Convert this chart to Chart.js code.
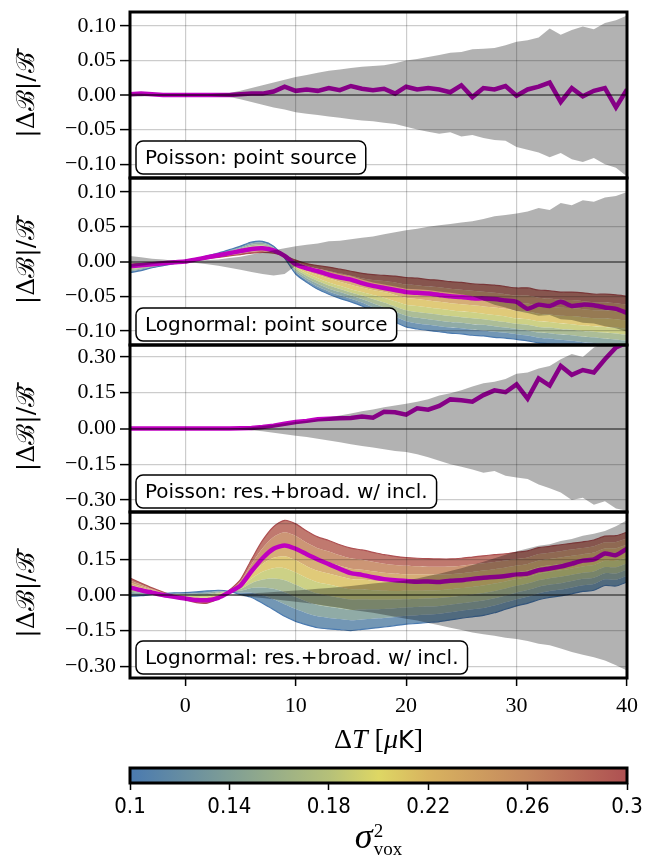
<!DOCTYPE html>
<html>
<head>
<meta charset="utf-8">
<script src="https://cdn.jsdelivr.net/npm/chart.js@4.4.1/dist/chart.umd.min.js"></script>
<style>
  html, body { margin: 0; padding: 0; background: #fff; }
  #page { position: relative; width: 657px; height: 861px; overflow: hidden; }
  canvas { position: absolute; left: 0; }
  .lbl { position: absolute; text-align: center; color: #000; white-space: nowrap; }
  .xt { left: 130px; width: 497px; top: 724px; font: 28px "Liberation Serif", serif; line-height: 30px; }
  .xt .k { font-family: "DejaVu Sans", sans-serif; font-size: 24px; }
  .ct { left: 130px; width: 497px; top: 814px; font: 36px "Liberation Serif", serif; line-height: 44px; }
  .ss { display: inline-flex; flex-direction: column; vertical-align: middle; font-size: 19px; line-height: 18px; text-align: left; font-style: normal; margin-left: 1px; }
</style>
</head>
<body>
<div id="page">
  <canvas id="p1" width="657" height="182" style="top:0px"></canvas>
  <canvas id="p2" width="657" height="175" style="top:174px"></canvas>
  <canvas id="p3" width="657" height="175" style="top:341px"></canvas>
  <canvas id="p4" width="657" height="212" style="top:508px"></canvas>
  <canvas id="cb" width="657" height="64" style="top:760px"></canvas>
  <div class="lbl xt">&Delta;<i>T</i> [<i>&mu;</i><span class="k">K</span>]</div>
  <div class="lbl ct"><i>&sigma;</i><span class="ss"><span>2</span><span>vox</span></span></div>
</div>
<script>
// x grid (ΔT in μK)
const dT = [-5,-4,-3,-2,-1,0,1,2,3,4,5,6,7,8,9,10,11,12,13,14,15,16,17,18,19,20,21,22,23,24,25,26,27,28,29,30,31,32,33,34,35,36,37,38,39,40];
const xTicks = [0, 10, 20, 30, 40];
const yTicksSmall = [-0.1, -0.05, 0, 0.05, 0.1];
const yTicksLarge = [-0.3, -0.15, 0, 0.15, 0.3];
const cbTicks = [0.1, 0.14, 0.18, 0.22, 0.26, 0.3];
const cbTickLabels = ['0.1', '0.14', '0.18', '0.22', '0.26', '0.3'];
const sigmaLevels = [0.1, 0.125, 0.15, 0.175, 0.2, 0.225, 0.25, 0.275, 0.3];
const panelLabels = ['Poisson: point source', 'Lognormal: point source', 'Poisson: res.+broad. w/ incl.', 'Lognormal: res.+broad. w/ incl.'];

// panel 1: Poisson, point source
const p1Hi = [0.002,0.002,0.001,0.001,0.001,0.001,0.001,0.001,0.002,0.003,0.006,0.010,0.014,0.018,0.022,0.026,0.029,0.032,0.035,0.037,0.039,0.041,0.042,0.043,0.046,0.050,0.052,0.055,0.058,0.061,0.062,0.066,0.067,0.068,0.072,0.077,0.079,0.083,0.096,0.087,0.094,0.099,0.095,0.104,0.108,0.115];
const p1Lo = [-0.002,-0.002,-0.001,-0.001,-0.001,-0.001,-0.001,-0.001,-0.002,-0.003,-0.006,-0.010,-0.014,-0.018,-0.021,-0.025,-0.027,-0.029,-0.031,-0.033,-0.035,-0.037,-0.038,-0.040,-0.042,-0.046,-0.050,-0.053,-0.056,-0.054,-0.060,-0.058,-0.062,-0.065,-0.066,-0.075,-0.079,-0.083,-0.090,-0.084,-0.093,-0.097,-0.091,-0.100,-0.105,-0.118];
const p1Line = [0.001,0.002,0.001,0.000,0.000,0.000,0.000,0.000,0.000,0.000,0.001,0.002,0.002,0.005,0.012,0.006,0.008,0.006,0.010,0.007,0.013,0.009,0.007,0.009,0.002,0.012,0.008,0.010,0.008,0.004,0.014,-0.003,0.010,0.008,0.013,-0.001,0.008,0.012,0.018,-0.010,0.010,-0.002,0.006,0.010,-0.018,0.008];

// panel 2: lognormal, point source
const p2Hi = [0.008,0.006,0.004,0.003,0.001,0.000,0.001,0.002,0.003,0.005,0.007,0.010,0.013,0.016,0.019,0.022,0.024,0.026,0.029,0.030,0.032,0.034,0.036,0.039,0.042,0.045,0.047,0.050,0.052,0.054,0.056,0.058,0.061,0.065,0.067,0.069,0.072,0.077,0.074,0.084,0.081,0.088,0.086,0.092,0.094,0.100];
const p2Lo = [-0.008,-0.006,-0.004,-0.002,-0.001,0.000,-0.002,-0.004,-0.006,-0.009,-0.012,-0.015,-0.018,-0.020,-0.018,-0.006,-0.007,-0.010,-0.014,-0.018,-0.021,-0.026,-0.030,-0.033,-0.036,-0.039,-0.040,-0.041,-0.043,-0.045,-0.047,-0.050,-0.056,-0.062,-0.066,-0.071,-0.074,-0.078,-0.077,-0.083,-0.084,-0.088,-0.089,-0.093,-0.096,-0.101];
const p2Line = [-0.007,-0.0055,-0.004,-0.0025,-0.001,0.000,0.003,0.006,0.009,0.012,0.015,0.018,0.019,0.016,0.008,-0.004,-0.010,-0.014,-0.019,-0.023,-0.026,-0.031,-0.035,-0.038,-0.041,-0.044,-0.045,-0.046,-0.048,-0.050,-0.051,-0.053,-0.053,-0.054,-0.056,-0.058,-0.068,-0.062,-0.064,-0.058,-0.064,-0.062,-0.063,-0.066,-0.068,-0.074];
const p2Fan0100 = [-0.016,-0.013,-0.009,-0.006,-0.003,0.000,0.004,0.008,0.012,0.017,0.022,0.028,0.029,0.022,0.005,-0.018,-0.030,-0.040,-0.047,-0.053,-0.058,-0.064,-0.072,-0.080,-0.087,-0.094,-0.097,-0.099,-0.101,-0.103,-0.104,-0.106,-0.107,-0.109,-0.110,-0.112,-0.114,-0.117,-0.118,-0.120,-0.122,-0.124,-0.125,-0.127,-0.128,-0.130];
const p2Fan0125 = [-0.0145,-0.0115,-0.0085,-0.0055,-0.003,0.000,0.004,0.0075,0.011,0.016,0.0205,0.026,0.027,0.021,0.0055,-0.0155,-0.027,-0.036,-0.043,-0.0485,-0.0535,-0.059,-0.066,-0.073,-0.0795,-0.086,-0.089,-0.091,-0.093,-0.095,-0.096,-0.098,-0.099,-0.101,-0.1025,-0.1045,-0.1065,-0.1095,-0.1105,-0.1125,-0.114,-0.116,-0.117,-0.119,-0.120,-0.122];
const p2Fan0150 = [-0.013,-0.010,-0.008,-0.005,-0.0025,0.000,0.0035,0.007,0.0105,0.0145,0.019,0.024,0.025,0.020,0.006,-0.013,-0.024,-0.032,-0.039,-0.044,-0.049,-0.054,-0.060,-0.066,-0.072,-0.078,-0.081,-0.083,-0.085,-0.087,-0.088,-0.090,-0.091,-0.093,-0.095,-0.097,-0.099,-0.102,-0.103,-0.105,-0.106,-0.108,-0.109,-0.111,-0.112,-0.114];
const p2Fan0175 = [-0.0115,-0.009,-0.007,-0.0045,-0.002,0.000,0.003,0.0065,0.010,0.013,0.0175,0.022,0.023,0.0185,0.0065,-0.0105,-0.0205,-0.028,-0.0345,-0.0395,-0.0445,-0.049,-0.054,-0.059,-0.0645,-0.070,-0.0725,-0.0745,-0.0765,-0.0785,-0.080,-0.0815,-0.083,-0.085,-0.087,-0.0895,-0.091,-0.094,-0.095,-0.097,-0.098,-0.100,-0.101,-0.1025,-0.1035,-0.1055];
const p2Fan0200 = [-0.010,-0.008,-0.006,-0.004,-0.002,0.000,0.003,0.006,0.009,0.012,0.016,0.020,0.021,0.017,0.007,-0.008,-0.017,-0.024,-0.030,-0.035,-0.040,-0.044,-0.048,-0.052,-0.057,-0.062,-0.064,-0.066,-0.068,-0.070,-0.072,-0.073,-0.075,-0.077,-0.079,-0.082,-0.083,-0.086,-0.087,-0.089,-0.090,-0.092,-0.093,-0.094,-0.095,-0.097];
const p2Fan0225 = [-0.0085,-0.007,-0.005,-0.003,-0.0015,0.000,0.003,0.0055,0.008,0.011,0.0145,0.018,0.019,0.016,0.007,-0.0055,-0.0135,-0.0195,-0.0245,-0.029,-0.0335,-0.0375,-0.041,-0.044,-0.048,-0.052,-0.054,-0.056,-0.058,-0.060,-0.0615,-0.063,-0.0645,-0.066,-0.068,-0.071,-0.072,-0.075,-0.076,-0.078,-0.0785,-0.080,-0.0815,-0.082,-0.083,-0.085];
const p2Fan0250 = [-0.007,-0.0055,-0.004,-0.0025,-0.001,0.000,0.0025,0.005,0.0075,0.010,0.013,0.016,0.017,0.0145,0.0075,-0.003,-0.010,-0.015,-0.019,-0.023,-0.027,-0.031,-0.034,-0.036,-0.039,-0.0425,-0.044,-0.046,-0.0475,-0.0495,-0.051,-0.0525,-0.054,-0.0555,-0.0575,-0.060,-0.0605,-0.0635,-0.0645,-0.0665,-0.067,-0.0685,-0.070,-0.0705,-0.0715,-0.0735];
const p2Fan0275 = [-0.0055,-0.004,-0.003,-0.002,-0.001,0.000,0.002,0.0045,0.007,0.009,0.0115,0.014,0.015,0.013,0.008,-0.0005,-0.0065,-0.0105,-0.0135,-0.017,-0.0205,-0.024,-0.0265,-0.028,-0.030,-0.033,-0.034,-0.036,-0.037,-0.039,-0.0405,-0.042,-0.0435,-0.045,-0.047,-0.049,-0.049,-0.052,-0.053,-0.055,-0.0555,-0.057,-0.0585,-0.059,-0.060,-0.062];
const p2Fan0300 = [-0.004,-0.003,-0.002,-0.001,-0.0005,0.000,0.002,0.004,0.006,0.008,0.010,0.012,0.013,0.012,0.008,0.002,-0.003,-0.006,-0.008,-0.011,-0.014,-0.017,-0.019,-0.020,-0.021,-0.023,-0.024,-0.026,-0.027,-0.029,-0.030,-0.032,-0.033,-0.034,-0.036,-0.038,-0.038,-0.041,-0.042,-0.044,-0.044,-0.045,-0.047,-0.047,-0.048,-0.050];

// panel 3: Poisson, res.+broad.
const p3Hi = [0.001,0.001,0.001,0.001,0.001,0.001,0.001,0.001,0.001,0.001,0.002,0.005,0.010,0.016,0.022,0.028,0.034,0.040,0.047,0.055,0.063,0.072,0.080,0.089,0.096,0.104,0.112,0.123,0.138,0.148,0.160,0.176,0.190,0.196,0.208,0.230,0.235,0.252,0.262,0.290,0.312,0.300,0.340,0.360,0.360,0.380];
const p3Lo = [-0.001,-0.001,-0.001,-0.001,-0.001,-0.001,-0.001,-0.001,-0.001,-0.001,-0.003,-0.007,-0.012,-0.018,-0.024,-0.030,-0.036,-0.043,-0.050,-0.058,-0.066,-0.073,-0.080,-0.087,-0.094,-0.099,-0.108,-0.121,-0.135,-0.150,-0.160,-0.172,-0.185,-0.178,-0.198,-0.205,-0.212,-0.235,-0.250,-0.268,-0.300,-0.290,-0.320,-0.305,-0.335,-0.345];
const p3Line = [0.000,0.000,0.000,0.000,0.000,0.000,0.000,0.000,0.000,0.000,0.001,0.002,0.006,0.012,0.020,0.027,0.032,0.039,0.041,0.043,0.044,0.050,0.045,0.070,0.068,0.058,0.085,0.079,0.095,0.122,0.118,0.112,0.140,0.160,0.152,0.185,0.125,0.210,0.180,0.262,0.225,0.245,0.235,0.290,0.340,0.360];

// panel 4: lognormal, res.+broad.
const p4Hi = [0.001,0.001,0.001,0.001,0.001,0.001,0.001,0.001,0.001,0.002,0.004,0.007,0.010,0.013,0.016,0.019,0.022,0.026,0.030,0.034,0.038,0.043,0.048,0.053,0.057,0.062,0.070,0.080,0.090,0.101,0.113,0.126,0.140,0.155,0.170,0.185,0.196,0.208,0.214,0.228,0.236,0.250,0.258,0.270,0.290,0.315];
const p4Lo = [-0.001,-0.001,-0.001,-0.001,-0.001,-0.001,-0.001,-0.001,-0.001,-0.002,-0.004,-0.008,-0.013,-0.018,-0.023,-0.028,-0.034,-0.040,-0.047,-0.054,-0.062,-0.068,-0.075,-0.083,-0.092,-0.100,-0.108,-0.118,-0.128,-0.138,-0.148,-0.158,-0.166,-0.172,-0.180,-0.186,-0.194,-0.206,-0.212,-0.226,-0.240,-0.252,-0.262,-0.276,-0.296,-0.318];
const p4Line = [0.032,0.020,0.010,0.000,-0.008,-0.015,-0.021,-0.022,-0.012,0.012,0.040,0.100,0.155,0.195,0.209,0.195,0.172,0.150,0.130,0.110,0.092,0.085,0.075,0.067,0.062,0.059,0.056,0.057,0.055,0.060,0.062,0.068,0.073,0.076,0.080,0.087,0.090,0.105,0.112,0.120,0.132,0.145,0.150,0.175,0.168,0.195];
const p4Fan0100 = [-0.006,-0.003,0.002,0.006,0.009,0.010,0.013,0.017,0.020,0.015,0.002,-0.010,-0.035,-0.062,-0.090,-0.111,-0.126,-0.138,-0.143,-0.146,-0.150,-0.145,-0.140,-0.135,-0.129,-0.123,-0.120,-0.116,-0.112,-0.105,-0.098,-0.092,-0.086,-0.075,-0.060,-0.046,-0.035,-0.020,-0.010,-0.004,0.005,0.015,0.020,0.040,0.038,0.055];
const p4Fan0125 = [0.0035,0.004,0.0055,0.0068,0.0073,0.0063,0.0073,0.0105,0.0158,0.0158,0.010,0.010,-0.0015,-0.018,-0.039,-0.0595,-0.0765,-0.090,-0.0965,-0.1015,-0.1065,-0.103,-0.100,-0.097,-0.0925,-0.088,-0.0855,-0.0825,-0.079,-0.073,-0.0665,-0.0605,-0.0545,-0.0445,-0.031,-0.0175,-0.007,0.0075,0.017,0.023,0.032,0.0415,0.0465,0.066,0.0645,0.0815];
const p4Fan0150 = [0.013,0.011,0.009,0.0075,0.0055,0.0025,0.0015,0.004,0.0115,0.0165,0.018,0.030,0.032,0.026,0.012,-0.008,-0.027,-0.042,-0.050,-0.057,-0.063,-0.061,-0.060,-0.059,-0.056,-0.053,-0.051,-0.049,-0.046,-0.041,-0.035,-0.029,-0.023,-0.014,-0.002,0.011,0.021,0.035,0.044,0.050,0.059,0.068,0.073,0.092,0.091,0.108];
const p4Fan0175 = [0.0225,0.0175,0.0125,0.0083,0.0038,-0.0013,-0.0043,-0.0025,0.0073,0.0173,0.026,0.050,0.065,0.0695,0.0625,0.0435,0.0225,0.006,-0.003,-0.012,-0.0195,-0.019,-0.020,-0.0205,-0.0195,-0.0175,-0.0165,-0.015,-0.013,-0.0085,-0.003,0.0025,0.0085,0.017,0.0275,0.039,0.0485,0.0625,0.071,0.077,0.0855,0.094,0.0995,0.118,0.1175,0.134];
const p4Fan0200 = [0.032,0.024,0.016,0.009,0.002,-0.005,-0.010,-0.009,0.003,0.018,0.034,0.070,0.098,0.113,0.113,0.095,0.072,0.054,0.044,0.033,0.024,0.023,0.020,0.018,0.017,0.018,0.018,0.019,0.020,0.024,0.029,0.034,0.040,0.048,0.057,0.067,0.076,0.090,0.098,0.104,0.112,0.120,0.126,0.144,0.144,0.160];
const p4Fan0225 = [0.042,0.0305,0.0195,0.010,0.0005,-0.009,-0.0155,-0.0155,-0.0015,0.0185,0.042,0.090,0.131,0.157,0.1635,0.1465,0.1215,0.102,0.0905,0.078,0.0675,0.065,0.060,0.056,0.0535,0.053,0.0525,0.0525,0.053,0.056,0.0605,0.0655,0.0715,0.0785,0.0865,0.0955,0.1035,0.1175,0.125,0.131,0.1385,0.146,0.1525,0.170,0.1705,0.1865];
const p4Fan0250 = [0.052,0.037,0.023,0.011,-0.001,-0.013,-0.021,-0.022,-0.006,0.019,0.050,0.110,0.164,0.201,0.214,0.198,0.171,0.150,0.137,0.123,0.111,0.107,0.100,0.094,0.090,0.088,0.087,0.086,0.086,0.088,0.092,0.097,0.103,0.109,0.116,0.124,0.131,0.145,0.152,0.158,0.165,0.172,0.179,0.196,0.197,0.213];
const p4Fan0275 = [0.0615,0.0435,0.0265,0.0115,-0.0025,-0.0165,-0.0265,-0.028,-0.0105,0.0195,0.0575,0.130,0.197,0.2445,0.2645,0.249,0.2205,0.1975,0.1835,0.1675,0.1545,0.1485,0.140,0.132,0.1265,0.123,0.121,0.1195,0.119,0.120,0.1235,0.1285,0.134,0.1395,0.145,0.152,0.1585,0.1725,0.1785,0.185,0.1915,0.198,0.2055,0.222,0.2235,0.239];
const p4Fan0300 = [0.071,0.050,0.030,0.012,-0.004,-0.020,-0.032,-0.034,-0.015,0.020,0.065,0.150,0.230,0.288,0.315,0.300,0.270,0.245,0.230,0.212,0.198,0.190,0.180,0.170,0.163,0.158,0.155,0.153,0.152,0.152,0.155,0.160,0.165,0.170,0.174,0.180,0.186,0.200,0.205,0.212,0.218,0.224,0.232,0.248,0.250,0.265];

// colour map used for σ²_vox (blue -> yellow -> red)
const cmapStops = [
  [0.0, '#4a7ab0'], [0.2, '#7f9e95'], [0.4, '#b5c079'], [0.5, '#ded764'],
  [0.6, '#d8b35f'], [0.8, '#c4875e'], [1.0, '#ae5052']
];
// fill of each band between two neighbouring σ² curves
const fanFills = [
  'rgba(91,133,168,0.85)', 'rgba(124,156,151,0.85)', 'rgba(157,177,133,0.85)', 'rgba(196,201,113,0.85)',
  'rgba(218,193,97,0.85)', 'rgba(207,160,95,0.85)', 'rgba(195,132,93,0.85)', 'rgba(181,97,86,0.85)'
];
const lineColor = '#c000c0';
const bandColor = 'rgba(0,0,0,0.3)';
const serif = '"Liberation Serif", serif';

function pts(ys) {
  return dT.map((x, i) => ({x: x, y: ys[i]}));
}

function fmt(v) {
  return v.toFixed(2).replace('-', '\u2212');
}

const frame = {
  id: 'frame',
  afterDraw(chart, args, opts) {
    const {ctx, chartArea: a} = chart;
    ctx.save();
    if (opts.label) {
      ctx.font = '20px "DejaVu Sans", sans-serif';
      const w = ctx.measureText(opts.label).width + 18;
      const h = 33, x = a.left + 6, y = a.bottom - 4 - h;
      ctx.beginPath();
      ctx.roundRect(x, y, w, h, 7);
      ctx.fillStyle = '#fff';
      ctx.fill();
      ctx.lineWidth = 1.5;
      ctx.strokeStyle = '#000';
      ctx.stroke();
      ctx.fillStyle = '#000';
      ctx.textBaseline = 'middle';
      ctx.fillText(opts.label, x + 9, y + h / 2 + 1);
    }
    ctx.lineWidth = 3;
    ctx.strokeStyle = '#000';
    ctx.strokeRect(a.left, a.top, a.right - a.left, a.bottom - a.top);
    ctx.restore();
  }
};

function panel(id, p) {
  const datasets = [
    {data: pts(p.hi), borderWidth: 0, pointRadius: 0, fill: false, order: 1, clip: 0},
    {data: pts(p.lo), borderWidth: 0, pointRadius: 0, fill: {target: 0}, backgroundColor: bandColor, order: 0, clip: 0},
    {data: pts(p.line), borderColor: lineColor, borderWidth: 4.5, pointRadius: 0, fill: false,
     tension: p.fan ? 0.2 : 0, order: 2, clip: 0}
  ];
  if (p.fan) {
    const last = p.fan.length - 1;
    p.fan.forEach((ys, k) => {
      datasets.push({
        data: pts(ys),
        borderWidth: (k === 0 || k === last) ? 1.2 : 0,
        borderColor: k === 0 ? cmapStops[0][1] : cmapStops[cmapStops.length - 1][1],
        pointRadius: 0,
        tension: 0.25,
        fill: k === 0 ? false : {target: 3 + k - 1},
        backgroundColor: k === 0 ? 'transparent' : fanFills[k - 1],
        order: 10 + k,
        clip: 0
      });
    });
  }
  const lim = p.lim;
  return new Chart(document.getElementById(id), {
    type: 'line',
    data: {datasets: datasets},
    options: {
      responsive: false,
      animation: false,
      events: [],
      layout: {padding: {left: 0, right: 30, top: p.padTop, bottom: p.bottom ? 0 : 4}},
      plugins: {legend: {display: false}, tooltip: {enabled: false}, frame: {label: p.label}},
      scales: {
        x: {
          type: 'linear', min: -5, max: 40,
          afterBuildTicks: s => { s.ticks = xTicks.map(v => ({value: v})); },
          afterFit: s => { s.height = p.bottom ? 42 : 0; s.paddingLeft = 0; s.paddingRight = 0; },
          border: {display: false},
          grid: {z: 1, color: 'rgba(0,0,0,0.2)', lineWidth: 1.2, drawTicks: !!p.bottom,
                 tickColor: '#000', tickWidth: 1.5, tickLength: 8},
          ticks: {display: !!p.bottom, color: '#000', padding: 7, font: {family: serif, size: 22}, maxRotation: 0}
        },
        y: {
          min: -lim, max: lim,
          afterBuildTicks: s => { s.ticks = p.ticks.map(v => ({value: v})); },
          afterFit: s => { s.width = 130; s.paddingTop = 0; s.paddingBottom = 0; },
          border: {display: false},
          grid: {
            z: 1,
            color: c => (c.tick && c.tick.value === 0) ? 'rgba(0,0,0,0.45)' : 'rgba(0,0,0,0.2)',
            lineWidth: c => (c.tick && c.tick.value === 0) ? 2 : 1.2,
            tickColor: '#000', tickWidth: 1.5, tickLength: 10
          },
          ticks: {color: '#000', padding: 4, font: {family: serif, size: 22}, callback: v => fmt(v)},
          title: {display: true, text: '|\u0394\u212C|/\u212C\u0304', color: '#000',
                  font: {family: '"DejaVu Serif", serif', size: 25}, padding: {top: 12, bottom: 0}}
        }
      }
    },
    plugins: [frame]
  });
}

panel('p1', {hi: p1Hi, lo: p1Lo, line: p1Line, lim: 0.12, ticks: yTicksSmall, label: panelLabels[0], padTop: 12});
panel('p2', {hi: p2Hi, lo: p2Lo, line: p2Line, lim: 0.12, ticks: yTicksSmall, label: panelLabels[1], padTop: 4,
             fan: [p2Fan0100, p2Fan0125, p2Fan0150, p2Fan0175, p2Fan0200, p2Fan0225, p2Fan0250, p2Fan0275, p2Fan0300]});
panel('p3', {hi: p3Hi, lo: p3Lo, line: p3Line, lim: 0.35, ticks: yTicksLarge, label: panelLabels[2], padTop: 4});
panel('p4', {hi: p4Hi, lo: p4Lo, line: p4Line, lim: 0.35, ticks: yTicksLarge, label: panelLabels[3], padTop: 4, bottom: true,
             fan: [p4Fan0100, p4Fan0125, p4Fan0150, p4Fan0175, p4Fan0200, p4Fan0225, p4Fan0250, p4Fan0275, p4Fan0300]});

// colour bar
new Chart(document.getElementById('cb'), {
  type: 'bar',
  data: {
    labels: [''],
    datasets: [{
      data: [[sigmaLevels[0], sigmaLevels[sigmaLevels.length - 1]]],
      barPercentage: 1, categoryPercentage: 1, borderWidth: 0,
      backgroundColor: c => {
        const a = c.chart.chartArea;
        if (!a) return '#ded764';
        const g = c.chart.ctx.createLinearGradient(a.left, 0, a.right, 0);
        cmapStops.forEach(s => g.addColorStop(s[0], s[1]));
        return g;
      }
    }]
  },
  options: {
    indexAxis: 'y',
    responsive: false,
    animation: false,
    events: [],
    layout: {padding: {left: 130, right: 30, top: 8, bottom: 0}},
    plugins: {legend: {display: false}, tooltip: {enabled: false}, frame: {}},
    scales: {
      y: {display: false},
      x: {
        type: 'linear', min: 0.1, max: 0.3,
        afterBuildTicks: s => { s.ticks = cbTicks.map(v => ({value: v})); },
        afterFit: s => { s.height = 41; s.paddingLeft = 0; s.paddingRight = 0; },
        border: {display: false},
        grid: {drawOnChartArea: false, tickColor: '#000', tickWidth: 1.5, tickLength: 7},
        ticks: {color: '#000', padding: 4, maxRotation: 0,
                font: {family: '"Liberation Sans Narrow", "DejaVu Sans Condensed", "Liberation Sans", sans-serif', size: 22},
                callback: (v, i) => cbTickLabels[i]}
      }
    }
  },
  plugins: [frame]
});
</script>
</body>
</html>
